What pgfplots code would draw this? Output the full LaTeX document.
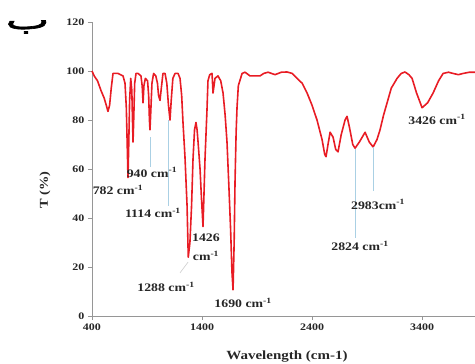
\documentclass[border=0pt]{standalone}
\usepackage{fontspec}
\setmainfont{Liberation Serif}[FakeStretch=1.2]
\newfontfamily\arabicfont[Script=Arabic, FakeBold=2.5, FakeStretch=1.8]{DejaVu Sans}
\TeXXeTstate=1
\usepackage{pgfplots}
\pgfplotsset{compat=1.18}
\definecolor{spec}{RGB}{232,28,36}
\definecolor{guide}{RGB}{170,208,228}
\definecolor{axgray}{RGB}{150,150,150}
\begin{document}
\begin{tikzpicture}
\begin{axis}[
  at={(0,0)}, anchor=south west,
  scale only axis, width=383pt, height=294pt,
  xmin=400, xmax=3881, ymin=0, ymax=120,
  xtick={400,1400,2400,3400}, ytick={0,20,...,120},
  axis x line*=bottom, axis y line*=left,
  axis line style={axgray, line width=0.8pt},
  tick style={axgray, line width=0.8pt},
  tick align=outside, major tick length=4pt,
  ticklabel style={font=\bfseries\fontsize{10}{11}\selectfont, text=black!85},
  /pgf/number format/assume math mode=true,
  /pgf/number format/1000 sep={},
  clip=false,
]
\addplot[spec, line width=1.6pt, line join=round] coordinates {
(400,100)(420,98)(450,96)(482,92)(510,89)(530,86)(545,83.5)(560,86)(575,93)(591,99)
(636,99)(682,98)(700,95)(712,85)(720,70)(727,56.5)(734,70)(742,88)(752,97)(762,92)
(768,80)(773,71)(779,80)(788,95)(800,99)(818,99)(845,98)(856,94)(864,87)(872,94)
(885,97)(905,96)(915,90)(922,80)(927,76)(933,82)(945,95)(960,99)(980,98)(995,95)
(1005,90)(1018,88)(1030,93)(1045,99)(1064,99)(1080,95)(1095,86)(1109,80)(1120,88)
(1135,97)(1155,99)(1182,99)(1200,97)(1215,90)(1227,79)(1245,65)(1264,45)(1275,24)
(1290,30)(1305,45)(1318,64)(1332,76)(1345,79)(1355,76)(1364,71)(1382,60)(1395,48)
(1409,36.5)(1418,50)(1427,64)(1445,84)(1454,96)(1470,98.5)(1491,99)(1500,91)(1509,94)
(1518,97)(1545,98)(1570,96)(1591,91)(1610,82)(1627,71)(1645,52)(1660,35)(1672,18)
(1682,10.7)(1692,30)(1700,55)(1710,75)(1718,85)(1730,94)(1764,99)(1791,99.5)(1836,98)
(1880,98)(1927,98)(1960,99)(2000,99.5)(2064,98.5)(2120,99.5)(2173,99.6)(2220,99)
(2264,97)(2310,95)(2355,91)(2400,86)(2445,80)(2491,72)(2515,66)(2527,65)(2545,70)
(2564,75)(2591,73)(2615,68)(2636,67)(2665,74)(2700,80)(2718,81.5)(2740,77)(2770,70)
(2791,68.5)(2830,71)(2882,75)(2920,71)(2955,69)(2990,72)(3018,76)(3050,82)(3082,87)
(3120,93)(3173,97)(3210,99)(3245,99.6)(3280,98.5)(3309,97)(3350,91)(3400,85)(3450,87)
(3500,91)(3550,96)(3591,99)(3640,99.5)(3682,99)(3730,98.5)(3773,99)(3830,99.5)(3881,99.5)
};
\addplot[guide, line width=0.7pt] coordinates {(927,73)(927,61)};
\addplot[guide, line width=0.7pt] coordinates {(1091,80)(1091,45)};
\addplot[gray!40, line width=0.6pt] coordinates {(1273,22)(1200,17.6)};
\addplot[guide, line width=0.7pt] coordinates {(2791,68)(2791,32)};
\addplot[guide, line width=0.7pt] coordinates {(2955,69)(2955,51)};
\tikzset{lab/.style={font=\bfseries\fontsize{11.5}{12}\selectfont, text=black!85, inner sep=0.5pt}}
\node[lab] at (axis cs:945,58.6) {940 cm\textsuperscript{-1}};
\node[lab] at (axis cs:636,51.6) {782 cm\textsuperscript{-1}};
\node[lab] at (axis cs:954,42.2) {1114 cm\textsuperscript{-1}};
\node[lab] at (axis cs:1436,31.8) {1426};
\node[lab] at (axis cs:1436,24.4) {cm\textsuperscript{-1}};
\node[lab] at (axis cs:1073,11.9) {1288 cm\textsuperscript{-1}};
\node[lab] at (axis cs:1773,5.3) {1690 cm\textsuperscript{-1}};
\node[lab] at (axis cs:2836,28.7) {2824 cm\textsuperscript{-1}};
\node[lab] at (axis cs:3000,45.5) {2983cm\textsuperscript{-1}};
\node[lab] at (axis cs:3536,80.3) {3426 cm\textsuperscript{-1}};
\end{axis}
\node[font=\bfseries\fontsize{12.5}{14}\selectfont, text=black!85] at (195pt,-41pt) {Wavelength (cm-1)};
\node[font=\bfseries\fontsize{12}{14}\selectfont, text=black!85, rotate=90] at (-47pt,126pt) {T (\%)};
\node[font=\arabicfont\fontsize{26}{28}\selectfont, anchor=base, inner sep=0pt] at (-64.5pt,287pt) {\beginR ب\endR};
\pgfresetboundingbox
\path (-92pt,-48pt) rectangle (383pt,316pt);
\end{tikzpicture}
\end{document}
